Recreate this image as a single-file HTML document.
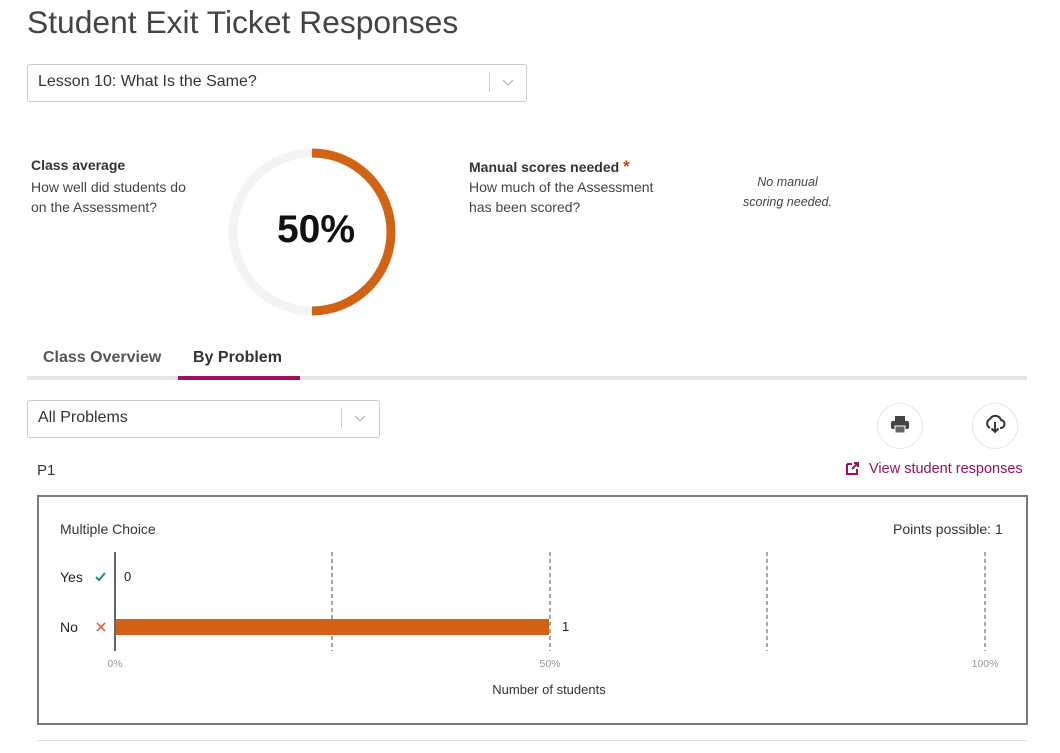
<!DOCTYPE html>
<html><head><meta charset="utf-8"><style>
body{margin:0;width:1060px;height:753px;background:#fff;font-family:"Liberation Sans",sans-serif;color:#333;position:relative;overflow:hidden}
.a{position:absolute;white-space:nowrap}
</style></head><body>
<div class="a" style="left:27px;top:4px;font-size:31.8px;color:#444;font-weight:300">Student Exit Ticket Responses</div>
<div class="a" style="left:27px;top:64px;width:498px;height:36px;border:1px solid #ccc;border-radius:3px"></div>
<div class="a" style="left:38px;top:73px;font-size:16px;color:#333">Lesson 10: What Is the Same?</div>
<div class="a" style="left:489px;top:72px;width:1px;height:20px;background:#ccc"></div>
<svg class="a" style="left:502px;top:79px" width="12" height="8"><path d="M1 1 L6 6 L11 1" fill="none" stroke="#bbb" stroke-width="1.3"/></svg>

<div class="a" style="left:31px;top:157px;font-size:14px;font-weight:bold;color:#333">Class average</div>
<div class="a" style="left:31px;top:177px;font-size:14px;line-height:20px;color:#444">How well did students do<br>on the Assessment?</div>
<svg class="a" style="left:220px;top:140px" width="185" height="185">
<path d="M92 13 A79 79 0 0 0 92 171" fill="none" stroke="#f3f3f3" stroke-width="9"/>
<path d="M92 13 A79 79 0 0 1 92 171" fill="none" stroke="#d06414" stroke-width="9"/>
<text x="96" y="102" text-anchor="middle" font-size="39" font-weight="bold" fill="#111" font-family="Liberation Sans">50%</text>
</svg>

<div class="a" style="left:469px;top:157px;font-size:14px;font-weight:bold;color:#333">Manual scores needed <span style="color:#d0400c;font-size:17px">*</span></div>
<div class="a" style="left:469px;top:177px;font-size:14px;line-height:20px;color:#444">How much of the Assessment<br>has been scored?</div>
<div class="a" style="left:730px;top:172px;width:115px;text-align:center;font-size:12.5px;line-height:20px;font-style:italic;color:#444">No manual<br>scoring needed.</div>

<div class="a" style="left:43px;top:349px;font-size:16px;font-weight:bold;color:#555">Class Overview</div>
<div class="a" style="left:193px;top:349px;font-size:16px;font-weight:bold;color:#333">By Problem</div>
<div class="a" style="left:27px;top:376px;width:1000px;height:4px;background:#e6e6e6"></div>
<div class="a" style="left:178px;top:376px;width:122px;height:4px;background:#9c1159"></div>

<div class="a" style="left:27px;top:400px;width:351px;height:36px;border:1px solid #ccc;border-radius:3px"></div>
<div class="a" style="left:38px;top:409px;font-size:16px;color:#333">All Problems</div>
<div class="a" style="left:341px;top:408px;width:1px;height:20px;background:#ccc"></div>
<svg class="a" style="left:354px;top:415px" width="12" height="8"><path d="M1 1 L6 6 L11 1" fill="none" stroke="#bbb" stroke-width="1.3"/></svg>

<div class="a" style="left:877px;top:403px;width:44px;height:44px;border:1px solid #e6e6e6;border-radius:50%"></div>
<svg class="a" style="left:890px;top:415px" width="20" height="20"><rect x="5" y="1" width="10" height="5" fill="#444"/><rect x="1" y="6" width="18" height="8" rx="2" fill="#444"/><rect x="5" y="11" width="10" height="7" fill="#666" stroke="#fff" stroke-width="1"/></svg>
<div class="a" style="left:972px;top:403px;width:44px;height:44px;border:1px solid #e6e6e6;border-radius:50%"></div>
<svg class="a" style="left:984px;top:413px" width="22" height="22"><path d="M6 15 A5 5 0 0 1 6 6 A6 6 0 0 1 17 7 A4 4 0 0 1 16 15" fill="none" stroke="#333" stroke-width="2"/><path d="M11 9 V19 M7.5 15.5 L11 19 L14.5 15.5" fill="none" stroke="#333" stroke-width="2"/></svg>

<div class="a" style="left:37px;top:462px;font-size:15px;color:#333">P1</div>
<svg class="a" style="left:845px;top:461px" width="15" height="15"><path d="M2 3 H7 M2 3 V13 H12 V8" fill="none" stroke="#9c1159" stroke-width="2"/><path d="M7 8 L13 2 M9 2 H13 V6" fill="none" stroke="#9c1159" stroke-width="2"/></svg>
<div class="a" style="left:869px;top:461px;font-size:14.5px;color:#9c1159">View student responses</div>

<div class="a" style="left:37px;top:495px;width:987px;height:226px;border:2px solid #7a7a7a"></div>
<div class="a" style="left:60px;top:521px;font-size:14px;color:#333">Multiple Choice</div>
<div class="a" style="left:893px;top:521px;font-size:14px;color:#333">Points possible: 1</div>

<svg class="a" style="left:0;top:540px" width="1060" height="170">
<g stroke="#888" stroke-width="1.5" stroke-dasharray="4,3">
<line x1="332" y1="12" x2="332" y2="111"/><line x1="550" y1="12" x2="550" y2="111"/><line x1="767" y1="12" x2="767" y2="111"/><line x1="985" y1="12" x2="985" y2="111"/></g>
<rect x="115" y="79" width="434" height="16" fill="#d06414"/>
<line x1="115" y1="12" x2="115" y2="111" stroke="#666" stroke-width="2"/>
<g font-family="Liberation Sans" font-size="14" fill="#222">
<text x="60" y="42">Yes</text><text x="60" y="92">No</text>
<text x="124" y="41" font-size="13">0</text><text x="562" y="91" font-size="13">1</text></g>
<path d="M96 37 L99 40 L105 33" fill="none" stroke="#2a8a6a" stroke-width="2"/>
<path d="M97 83 L105 91 M105 83 L97 91" stroke="#e0503a" stroke-width="1.5"/>
<g font-family="Liberation Sans" font-size="10.5" fill="#999" text-anchor="middle">
<text x="115" y="127">0%</text><text x="550" y="127">50%</text><text x="985" y="127">100%</text></g>
<text x="549" y="154" text-anchor="middle" font-family="Liberation Sans" font-size="13" fill="#333">Number of students</text>
</svg>
<div class="a" style="left:37px;top:740px;width:990px;height:1px;background:#ddd"></div>
</body></html>
